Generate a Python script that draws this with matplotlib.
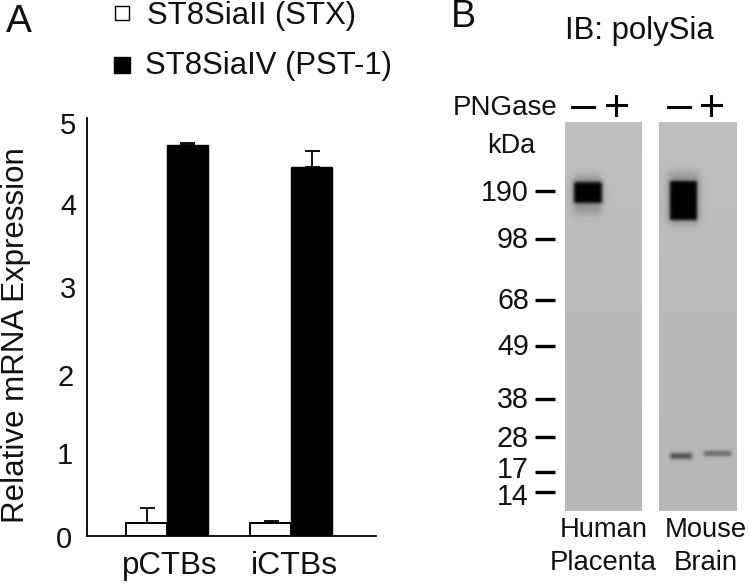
#!python3
# -*- coding: utf8 -*-

import matplotlib
matplotlib.use('Agg')
import matplotlib.pyplot as plt
import numpy as np

plt.rcParams['font.family'] = ['Liberation Sans', 'DejaVu Sans']

W, H = 750, 586

groups = ['pCTBs', 'iCTBs']
stx_label = 'ST8SiaII (STX)'
pst_label = 'ST8SiaIV (PST-1)'
stx_values = [0.15, 0.155]
stx_errors = [0.18, 0.02]
pst_values = [4.68, 4.41]
pst_errors = [0.02, 0.19]

y_labels = ['0', '1', '2', '3', '4', '5']
y_label_x = [64, 65, 66, 68, 68, 68]
y_label_px = [540, 456, 378, 290, 207, 126]

kda_labels = ['190', '98', '68', '49', '38', '28', '17', '14']
kda_tick_px = [191, 239, 300, 346, 399, 437, 472, 492]
kda_label_px = [193, 240, 301, 347, 400, 439, 470, 497]

# left, right, top, bottom, darkness, edge softness of each band, in pixels
human_bands = [(574, 602, 182, 203, 1.0, 2.0),
               (574, 601, 176, 214, 0.22, 5.0)]
mouse_bands = [(670, 697, 181, 220, 1.0, 1.8),
               (668, 699, 172, 224, 0.22, 5.0),
               (670, 692, 453, 459, 0.55, 2.0),
               (704, 731, 451, 456, 0.45, 2.0)]


def blot(x0, x1, bands):
    """Gray blot strip with soft edged dark bands."""
    xs = np.arange(x0, x1) + 0.5
    ys = np.arange(122, 511) + 0.5
    gx, gy = np.meshgrid(xs, ys)
    # film is a little lighter at the top than at the bottom
    img = 0.745 - 0.03 * (gy - 122) / 389
    for l, r, t, b, dark, smooth in bands:
        fx = 0.5 * (np.tanh((gx - l) / smooth) - np.tanh((gx - r) / smooth))
        fy = 0.5 * (np.tanh((gy - t) / smooth) - np.tanh((gy - b) / smooth))
        img = img * (1 - dark * fx * fy)
    return img


fig = plt.figure(figsize=(W / 100, H / 100), dpi=100)


def px_axes(l, t, r, b):
    return fig.add_axes([l / W, 1 - b / H, (r - l) / W, (b - t) / H])


# Panel A
ax = px_axes(87, 118, 376, 536)
x = np.arange(len(groups))
width = 0.33
err_style = dict(ecolor='black', elinewidth=1.3, capsize=5.4, capthick=1.3)
ax.bar(x - width / 2, stx_values, width, color='white', edgecolor='black',
       linewidth=1.4, yerr=[[0, 0], stx_errors], error_kw=err_style)
ax.bar(x + width / 2, pst_values, width, color='black', edgecolor='black',
       linewidth=1, yerr=[[0, 0], pst_errors], error_kw=err_style)
ax.set_xlim(-0.645, 1.685)
ax.set_ylim(0, 5)
ax.set_xticks([])
ax.set_yticks([])
for side in ['top', 'right']:
    ax.spines[side].set_visible(False)
for side in ['left', 'bottom']:
    ax.spines[side].set_linewidth(1.3)

# Panel B strips
for (x0, x1, bands) in [(565, 642, human_bands), (659, 737, mouse_bands)]:
    bx = px_axes(x0, 122, x1, 511)
    bx.imshow(blot(x0, x1, bands), cmap='gray', vmin=0, vmax=1, aspect='auto',
              interpolation='bilinear')
    bx.axis('off')

# Overlay in image pixels for the free standing labels
ov = fig.add_axes([0, 0, 1, 1], facecolor='none')
ov.set_xlim(0, W)
ov.set_ylim(H, 0)
ov.axis('off')


def label(x, y, s, size=20, ha='center', **kw):
    ov.text(x, y, s, fontsize=size, ha=ha, va='center', color='#111111', **kw)


label(19, 22, 'A', size=28)
label(463, 17, 'B', size=27)

ov.plot([121.5], [12.5], 's', ms=10.5, mfc='white', mec='black', mew=1)
ov.plot([121.5], [64.5], 's', ms=11, mfc='black', mec='black')
label(147, 16, stx_label, size=22.4, ha='left')
label(145, 66, pst_label, size=22.4, ha='left')

for s, px, py in zip(y_labels, y_label_x, y_label_px):
    label(px, py, s, size=21)
label(16, 335, 'Relative mRNA Expression', size=22.5, rotation=90)
label(170, 566, groups[0], size=22.5)
label(294, 566, groups[1], size=23)

label(639, 31, 'IB: polySia', size=22.4)
label(505, 108, 'PNGase', size=20)
label(511, 146, 'kDa', size=19.5)
for cx in [583, 679]:
    ov.plot([cx - 11, cx + 11], [107, 107], color='black', lw=2.2)
for cx in [616, 711]:
    ov.plot([cx - 9.5, cx + 9.5], [105, 105], color='black', lw=2.2)
    ov.plot([cx, cx], [95.5, 114.5], color='black', lw=2.2)

for s, ty, ly in zip(kda_labels, kda_tick_px, kda_label_px):
    ov.plot([535, 555], [ty, ty], color='black', lw=2.4, solid_capstyle='butt')
    label(529, ly, s, ha='right', size=20.6)

label(604, 530, 'Human', size=19.7)
label(603, 563, 'Placenta', size=19.8)
label(706, 530, 'Mouse', size=19.7)
label(706, 563, 'Brain', size=19.8)

fig.savefig('out.png', dpi=100)
